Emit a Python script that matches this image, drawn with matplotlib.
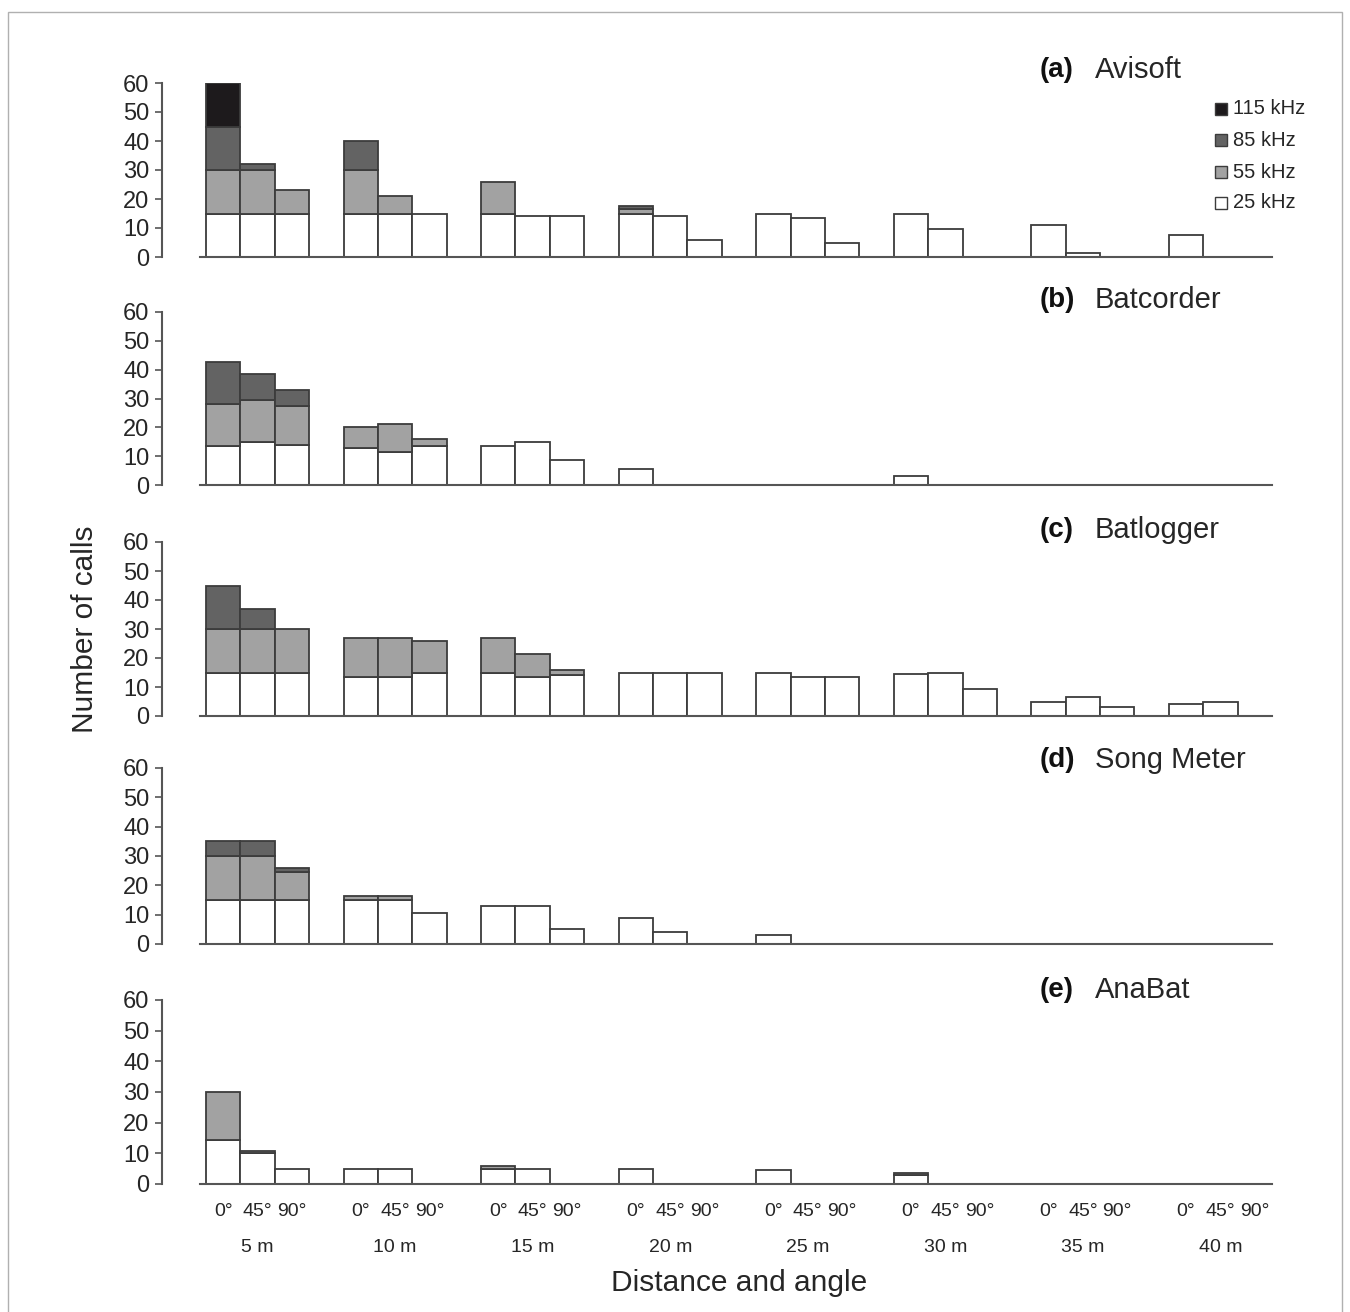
import matplotlib
matplotlib.use('Agg')
import matplotlib.pyplot as plt
import matplotlib.transforms as mtransforms
from matplotlib.patches import Rectangle
import numpy as np

plt.rcParams['font.family'] = ['Liberation Sans', 'DejaVu Sans']

# ---------------- data ----------------
distances = ['5 m', '10 m', '15 m', '20 m', '25 m', '30 m', '35 m', '40 m']
angles = ['0°', '45°', '90°']
freq_labels = ['25 kHz', '55 kHz', '85 kHz', '115 kHz']
devices = ['Avisoft', 'Batcorder', 'Batlogger', 'Song Meter', 'AnaBat']
panel_tags = ['(a)', '(b)', '(c)', '(d)', '(e)']

# order: 5m(0,45,90), 10m(0,45,90), ... 40m(0,45,90)
avisoft_25 = [15, 15, 15, 15, 15, 15, 15, 14, 14, 15, 14, 6, 15, 13.5, 5, 15, 9.5, 0, 11, 1.5, 0, 7.5, 0, 0]
avisoft_55 = [15, 15, 8, 15, 6, 0, 11, 0, 0, 1.5, 0, 0, 0, 0, 0, 0, 0, 0, 0, 0, 0, 0, 0, 0]
avisoft_85 = [15, 2, 0, 10, 0, 0, 0, 0, 0, 1, 0, 0, 0, 0, 0, 0, 0, 0, 0, 0, 0, 0, 0, 0]
avisoft_115 = [15, 0, 0, 0, 0, 0, 0, 0, 0, 0, 0, 0, 0, 0, 0, 0, 0, 0, 0, 0, 0, 0, 0, 0]

batcorder_25 = [13.5, 15, 14, 13, 11.5, 13.5, 13.5, 15, 8.5, 5.5, 0, 0, 0, 0, 0, 3, 0, 0, 0, 0, 0, 0, 0, 0]
batcorder_55 = [14.5, 14.5, 13.5, 7, 9.5, 2.5, 0, 0, 0, 0, 0, 0, 0, 0, 0, 0, 0, 0, 0, 0, 0, 0, 0, 0]
batcorder_85 = [14.5, 9, 5.5, 0, 0, 0, 0, 0, 0, 0, 0, 0, 0, 0, 0, 0, 0, 0, 0, 0, 0, 0, 0, 0]
batcorder_115 = [0] * 24

batlogger_25 = [15, 15, 15, 13.5, 13.5, 15, 15, 13.5, 14, 15, 15, 14.8, 15, 13.5, 13.5, 14.5, 15, 9.3, 5, 6.5, 3, 4.3, 4.8, 0]
batlogger_55 = [15, 15, 15, 13.5, 13.5, 11, 12, 8, 2, 0, 0, 0, 0, 0, 0, 0, 0, 0, 0, 0, 0, 0, 0, 0]
batlogger_85 = [15, 7, 0, 0, 0, 0, 0, 0, 0, 0, 0, 0, 0, 0, 0, 0, 0, 0, 0, 0, 0, 0, 0, 0]
batlogger_115 = [0] * 24

songmeter_25 = [15, 15, 15, 15, 15, 10.5, 13, 13, 5, 9, 4, 0, 3, 0, 0, 0, 0, 0, 0, 0, 0, 0, 0, 0]
songmeter_55 = [15, 15, 9.5, 1.5, 1.5, 0, 0, 0, 0, 0, 0, 0, 0, 0, 0, 0, 0, 0, 0, 0, 0, 0, 0, 0]
songmeter_85 = [5, 5, 1.5, 0, 0, 0, 0, 0, 0, 0, 0, 0, 0, 0, 0, 0, 0, 0, 0, 0, 0, 0, 0, 0]
songmeter_115 = [0] * 24

anabat_25 = [14.5, 10, 5, 5, 5, 0, 5, 5, 0, 5, 0, 0, 4.7, 0, 0, 3, 0, 0, 0, 0, 0, 0, 0, 0]
anabat_55 = [15.5, 0.7, 0, 0, 0, 0, 0.8, 0, 0, 0, 0, 0, 0, 0, 0, 0.7, 0, 0, 0, 0, 0, 0, 0, 0]
anabat_85 = [0] * 24
anabat_115 = [0] * 24

panel_data = [
    [avisoft_25, avisoft_55, avisoft_85, avisoft_115],
    [batcorder_25, batcorder_55, batcorder_85, batcorder_115],
    [batlogger_25, batlogger_55, batlogger_85, batlogger_115],
    [songmeter_25, songmeter_55, songmeter_85, songmeter_115],
    [anabat_25, anabat_55, anabat_85, anabat_115],
]

# ---------------- style ----------------
freq_colors = ['#ffffff', '#a2a2a2', '#636363', '#1d1a1c']
edge_color = '#3c3c3c'
axis_color = '#555555'
text_color = '#262626'

W, H = 1350, 1312
fig = plt.figure(figsize=(W / 100, H / 100), dpi=100)
fig.patch.set_facecolor('white')

# figure frame
fig.add_artist(Rectangle((8 / W, -0.01), (1342 - 8) / W, (H - 12) / H + 0.01,
                         transform=fig.transFigure, fill=False,
                         edgecolor='#b0b0b0', linewidth=1.0))

panel_px = [(83, 257), (312, 485), (542, 716), (768, 944), (1000, 1184)]
title_y = [70, 300, 530, 760, 990]
left_px, right_px, bar0_px = 162, 1272, 206
upp = 31.0 / (right_px - bar0_px)
xmin = -0.5 - (bar0_px - left_px) * upp
xmax = 30.5

xpos = np.array([4 * g + a for g in range(len(distances)) for a in range(len(angles))], dtype=float)

axes = []
for i, (top, bot) in enumerate(panel_px):
    ax = fig.add_axes([left_px / W, 1 - bot / H, (right_px - left_px) / W, (bot - top) / H])
    ax.set_xlim(xmin, xmax)
    ax.set_ylim(0, 60)
    ax.patch.set_alpha(0)
    bottom = np.zeros(len(xpos))
    for layer, col in zip(panel_data[i], freq_colors):
        vals = np.array(layer, dtype=float)
        m = vals > 0
        ax.bar(xpos[m], vals[m], bottom=bottom[m], width=1.0, color=col,
               edgecolor=edge_color, linewidth=1.3, zorder=2)
        bottom += vals
    for s in ['top', 'right']:
        ax.spines[s].set_visible(False)
    ax.spines['left'].set_bounds(0, 60)
    ax.spines['bottom'].set_bounds(-0.68, 30.5)
    for s in ['left', 'bottom']:
        ax.spines[s].set_color(axis_color)
        ax.spines[s].set_linewidth(1.5)
    ax.spines['bottom'].set_zorder(3)
    ax.set_yticks([0, 10, 20, 30, 40, 50, 60])
    ax.tick_params(axis='y', direction='out', length=5, width=1.2, color=axis_color,
                   labelsize=17, labelcolor=text_color, pad=4)
    ax.set_xticks([])
    fig.text(1040 / W, 1 - title_y[i] / H, panel_tags[i], fontsize=20, color='#111111',
             va='center', ha='left', fontweight='bold')
    fig.text(1095 / W, 1 - title_y[i] / H, devices[i], fontsize=21, color=text_color,
             va='center', ha='left')
    axes.append(ax)

# legend (panel a)
leg_y = [203, 172, 140, 109]
for lab, col, y in zip(freq_labels, freq_colors, leg_y):
    fig.add_artist(Rectangle((1215 / W, 1 - (y + 6) / H), 12 / W, 12 / H,
                             transform=fig.transFigure, facecolor=col,
                             edgecolor=edge_color, linewidth=1.0))
    fig.text(1233 / W, 1 - y / H, lab, fontsize=14.5, color=text_color, va='center', ha='left')

# x labels under bottom panel
axb = axes[-1]
trans = mtransforms.blended_transform_factory(axb.transData, fig.transFigure)
for k, xp in enumerate(xpos):
    axb.text(xp, 1 - 1212 / H, angles[k % 3], transform=trans, fontsize=14,
             color=text_color, ha='center', va='center')
for g, d in enumerate(distances):
    axb.text(4 * g + 1, 1 - 1247 / H, d, transform=trans, fontsize=14,
             color=text_color, ha='center', va='center')

fig.text(739 / W, 1 - 1283 / H, 'Distance and angle', fontsize=21.5, color=text_color,
         ha='center', va='center')
fig.text(85 / W, 1 - 629 / H, 'Number of calls', fontsize=21.5, color=text_color,
         ha='center', va='center', rotation=90)

fig.savefig('out.png', dpi=100, facecolor='white')
